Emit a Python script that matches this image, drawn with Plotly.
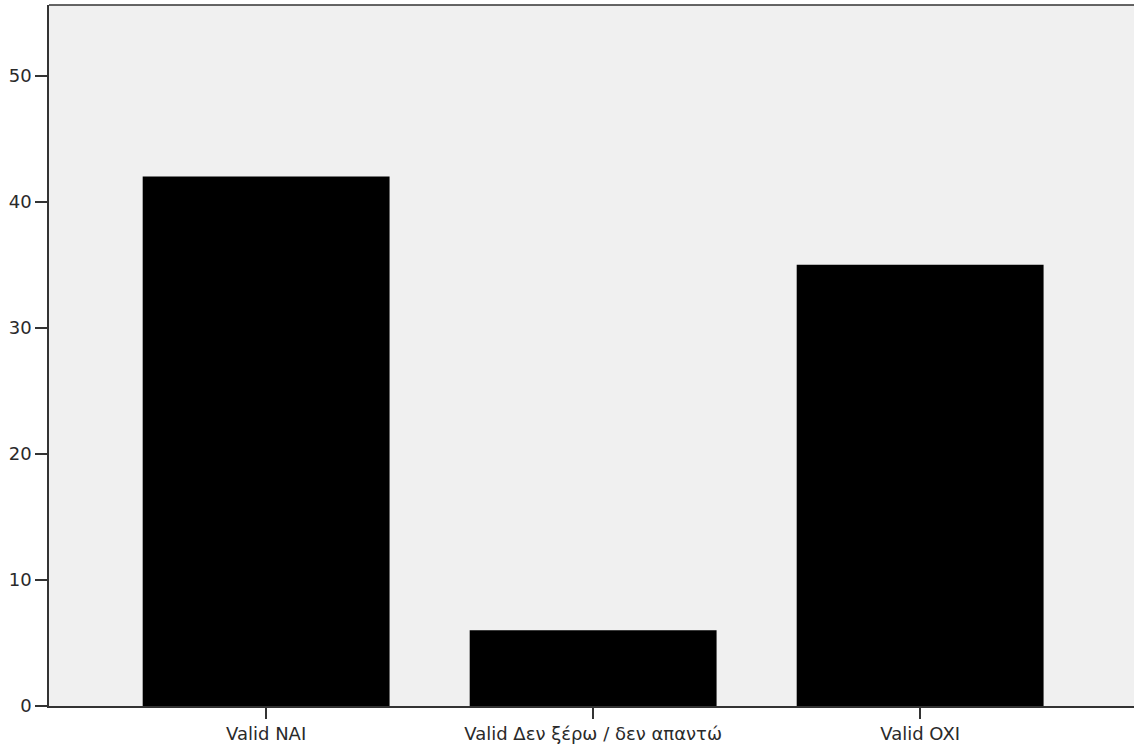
import plotly.graph_objects as go

categories = ["Valid NAI", "Valid Δεν ξέρω / δεν απαντώ", "Valid OXI"]
values = [42, 6, 35]
y_ticks = [0, 10, 20, 30, 40, 50]

fig = go.Figure()
fig.add_trace(go.Bar(
    x=[0, 1, 2], y=values,
    marker=dict(color="#000000", line=dict(color="#000000", width=0)),
    width=0.755,
))

fig.update_layout(
    width=1134, height=747,
    margin=dict(l=49, r=0, t=5, b=41),
    paper_bgcolor="#ffffff",
    plot_bgcolor="#f0f0f0",
    showlegend=False,
    font=dict(family="DejaVu Sans, Verdana, sans-serif", size=18, color="#2a2a2a"),
    xaxis=dict(
        range=[-0.664, 2.654],
        tickmode="array", tickvals=[0, 1, 2], ticktext=categories,
        ticks="outside", ticklen=11, tickwidth=1.5, tickcolor="#333333",
        showline=True, linecolor="#333333", linewidth=1.5,
        mirror=False, showgrid=False, zeroline=False,
    ),
    yaxis=dict(
        range=[0, 55.6],
        tickmode="array", tickvals=y_ticks,
        ticks="outside", ticklen=12, tickwidth=1.5, tickcolor="#333333",
        showline=True, linecolor="#333333", linewidth=1.5,
        showgrid=False, zeroline=False,
    ),
)
# top border line
fig.add_shape(type="line", xref="paper", yref="paper", x0=0, x1=1, y0=1, y1=1,
              line=dict(color="#333333", width=1.5))

fig.write_html("out.html", config={"displayModeBar": False},
               post_script="document.body.style.margin='0';document.body.style.overflow='hidden';")
